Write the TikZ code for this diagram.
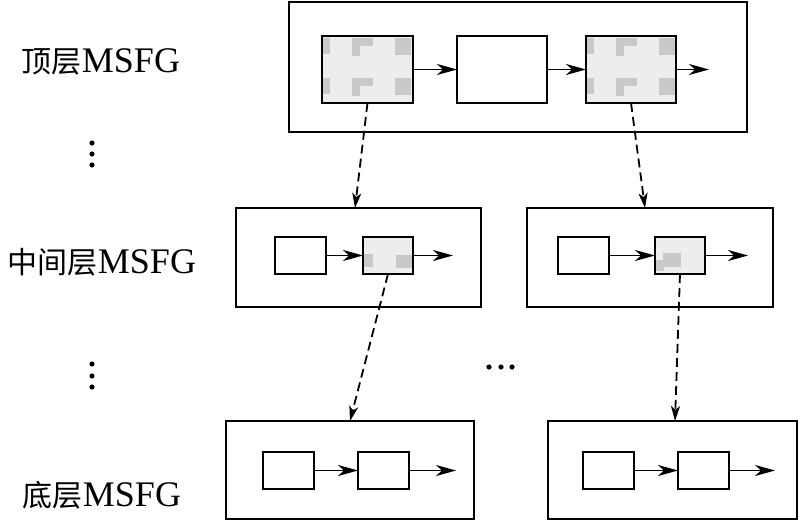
\documentclass[tikz,border=0pt]{standalone}
\usepackage{fontspec}
\setmainfont{Liberation Serif}
\newfontfamily\cjk{Noto Sans CJK SC}
\usetikzlibrary{arrows.meta}
\definecolor{shadefill}{HTML}{EDEDED}
\definecolor{patch}{HTML}{C9C9C9}
\tikzset{
  frame/.style={draw, line width=2.3pt, rectangle, inner sep=0pt, outer sep=0pt, minimum width=#1},
  frame/.default=240pt,
  blk/.style={draw, line width=2.3pt, rectangle, inner sep=0pt, outer sep=0pt, fill=white},
  shadeblk/.style={blk, fill=shadefill},
  flow/.style={line width=1.9pt, -{Stealth[length=20pt,width=11pt,inset=6pt]}},
  dasharrow/.style={line width=1.8pt, dash pattern=on 9pt off 5pt, -{Stealth[length=15pt,width=9pt,inset=4pt]}},
  lab/.style={font=\fontsize{36}{40}\selectfont, inner sep=0pt},
  dotmark/.style={fill=black}
}
\newcommand{\zh}[1]{{\cjk\fontsize{30}{32}\selectfont #1}}
\begin{document}
\begin{tikzpicture}[x=1pt,y=-1pt]
\useasboundingbox (0,0) rectangle (800,521);
% containers
\node[frame=458pt, minimum height=130pt] (top) at (518,67) {};
\node[frame=245pt, minimum height=99pt] (ml) at (358.5,257.5) {};
\node[frame=246pt, minimum height=99pt] (mr) at (650,257.5) {};
\node[frame=248pt, minimum height=98pt] (bl) at (350,470) {};
\node[frame=249pt, minimum height=98pt] (br) at (672.5,470) {};
% top blocks
\node[shadeblk, minimum width=91pt, minimum height=67pt] (A) at (367.5,69.5) {};
\node[blk, minimum width=90pt, minimum height=67pt] (B) at (502,69.5) {};
\node[shadeblk, minimum width=90pt, minimum height=67pt] (C) at (631,69.5) {};
% patches in top shaded blocks
\foreach \bx in {322,586}{
  \foreach \ry in {2,42}{
    \fill[patch] (\bx+1,36+\ry) rectangle (\bx+8,36+\ry+16);
    \fill[patch] (\bx+30,36+\ry) rectangle (\bx+51,36+\ry+8);
    \fill[patch] (\bx+30,36+\ry+8) rectangle (\bx+38,36+\ry+18);
    \fill[patch] (\bx+73,36+\ry) rectangle (\bx+89,36+\ry+17);
  }
}
% middle blocks
\node[blk, minimum width=51pt, minimum height=37pt] (m1) at (300.5,255.5) {};
\node[shadeblk, minimum width=50pt, minimum height=37pt] (m2) at (388,255.5) {};
\fill[patch] (364,254) rectangle (373,267);
\fill[patch] (396,255) rectangle (412,268);
\node[blk, minimum width=51pt, minimum height=37pt] (n1) at (583.5,255.5) {};
\node[shadeblk, minimum width=50pt, minimum height=37pt] (n2) at (680,255.5) {};
\fill[patch] (663,253) rectangle (681,267);
\fill[patch] (656,260) rectangle (664,271);
\draw[line width=2.3pt] (m2.north west) rectangle (m2.south east);
\draw[line width=2.3pt] (n2.north west) rectangle (n2.south east);
\draw[line width=2.3pt] (A.north west) rectangle (A.south east);
\draw[line width=2.3pt] (C.north west) rectangle (C.south east);
% bottom blocks
\node[blk, minimum width=51pt, minimum height=37pt] (b1) at (288.5,470.5) {};
\node[blk, minimum width=51pt, minimum height=37pt] (b2) at (383.5,470.5) {};
\node[blk, minimum width=51pt, minimum height=37pt] (c1) at (608.5,470.5) {};
\node[blk, minimum width=51pt, minimum height=37pt] (c2) at (703.5,470.5) {};
% free ends
\coordinate (Cout) at (709,69.5);
\coordinate (m2out) at (453,255.5);
\coordinate (n2out) at (748,255.5);
\coordinate (b2out) at (456,470.5);
\coordinate (c2out) at (775,470.5);
% flow arrows
\draw[flow] (A) -- (B);
\draw[flow] (B) -- (C);
\draw[flow] (C) -- (Cout);
\draw[flow] (m1) -- (m2);
\draw[flow] (m2) -- (m2out);
\draw[flow] (n1) -- (n2);
\draw[flow] (n2) -- (n2out);
\draw[flow] (b1) -- (b2);
\draw[flow] (b2) -- (b2out);
\draw[flow] (c1) -- (c2);
\draw[flow] (c2) -- (c2out);
% dashed refinement arrows
\coordinate (mlin) at (355,208);
\coordinate (mrin) at (645,208);
\coordinate (blin) at (350,421);
\coordinate (brin) at (675,421);
\draw[dasharrow] (A.south) -- (mlin);
\draw[dasharrow] (C.south) -- (mrin);
\draw[dasharrow] (m2.south) -- (blin);
\draw[dasharrow] (n2.south) -- (brin);
% labels
\node[lab] (l1) at (101,62) {\zh{顶层}MSFG};
\node[lab] (l2) at (102,262) {\zh{中间层}MSFG};
\node[lab] (l3) at (102,495) {\zh{底层}MSFG};
% dots
\foreach \y in {143,154,165,364,376,387} \fill[dotmark] (92,\y) circle (2.6pt);
\foreach \x in {489,501,512} \fill[dotmark] (\x,367) circle (2.6pt);
\end{tikzpicture}
\end{document}
